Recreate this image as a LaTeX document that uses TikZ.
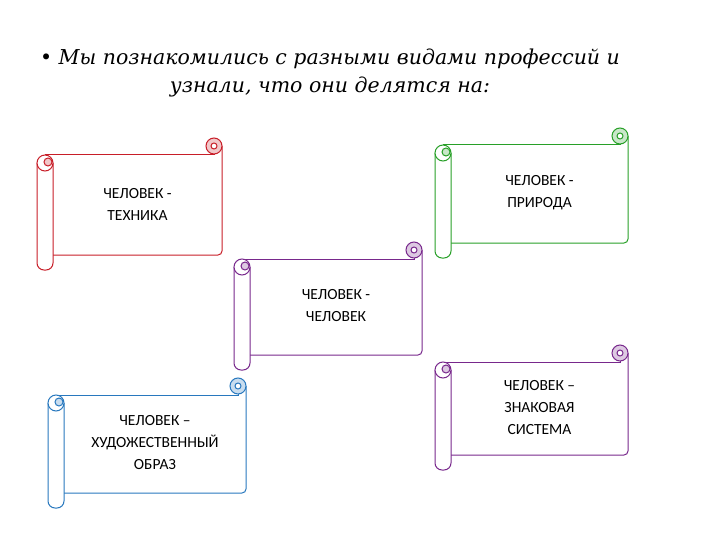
\documentclass[tikz,border=0pt]{standalone}
\usepackage{fontspec}
\setmainfont{DejaVu Serif}
\newfontfamily\lab{Carlito}
\newcommand\myscroll[7]{% L T R B color name text
  \fill[white] ({#1+8},{#2+17}) rectangle (#3,{#4-15});
  \draw[#5,line width=1pt] ({#1+8},{#2+17}) -- ({#3-8},{#2+17}) -- ({#3-8},{#2+8});
  \draw[#5,line width=1pt,rounded corners=4pt] ({#3},{#2+8}) -- ({#3},{#4-15}) -- ({#1+16},{#4-15});
  \draw[#5,line width=1pt,fill=#5!25] ({#3-8},{#2+8}) circle[radius=8];
  \draw[#5,line width=1pt,fill=white] ({#3-8},{#2+8}) circle[radius=3];
  \draw[#5,line width=1pt,fill=white,rounded corners=7pt] ({#1},{#2+25}) -- ({#1},{#4}) -- ({#1+16},{#4}) -- ({#1+16},{#2+25});
  \draw[#5,line width=1pt,fill=white] ({#1+8},{#2+25}) circle[radius=8];
  \draw[#5,line width=1pt,fill=#5!25] ({#1+11},{#2+24}) circle[radius=4];
  \node[font=\lab\fontsize{15.5}{22}\selectfont,align=center] (#6) at ({(#1+#3)/2+8},{(#2+#4)/2}) {#7};
}
\definecolor{cr}{RGB}{200,30,40}
\definecolor{cg}{RGB}{40,160,40}
\definecolor{cp}{RGB}{120,40,140}
\definecolor{cb}{RGB}{40,120,190}
\begin{document}
\begin{tikzpicture}[x=1pt,y=-1pt]
\useasboundingbox (0,0) rectangle (720,540);
\node[font=\itshape\fontsize{20.5}{28}\selectfont,align=center] (title) at (330,73) {• Мы познакомились с разными видами профессий и\\узнали, что они делятся на:};
\myscroll{37}{138}{222}{270}{cr}{a}{ЧЕЛОВЕК -\\ТЕХНИКА}
\myscroll{435}{128}{628}{258}{cg}{b}{ЧЕЛОВЕК -\\ПРИРОДА}
\myscroll{234}{242}{422}{370}{cp}{c}{ЧЕЛОВЕК -\\ЧЕЛОВЕК}
\myscroll{48}{378}{246}{508}{cb}{d}{ЧЕЛОВЕК –\\ХУДОЖЕСТВЕННЫЙ\\ОБРАЗ}
\myscroll{435}{345}{628}{470}{cp}{e}{ЧЕЛОВЕК –\\ЗНАКОВАЯ\\СИСТЕМА}
\end{tikzpicture}
\end{document}
